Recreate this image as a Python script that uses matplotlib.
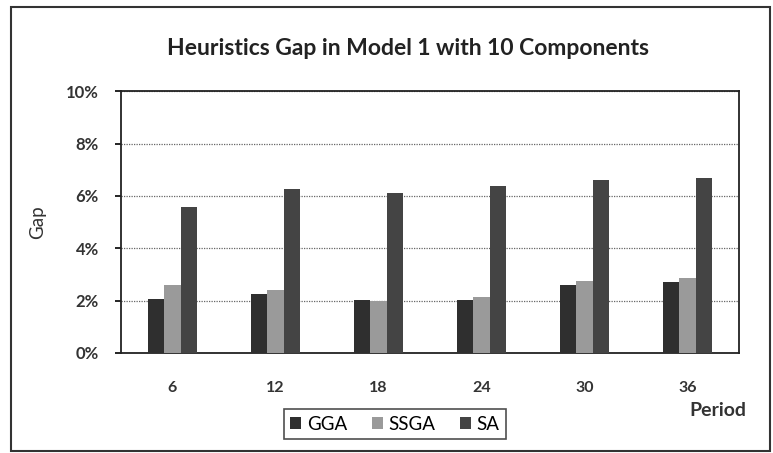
import numpy as np
import matplotlib.pyplot as plt
from matplotlib.patches import Rectangle
from matplotlib.ticker import FuncFormatter

periods = ["6", "12", "18", "24", "30", "36"]
gga = [2.06, 2.24, 2.04, 2.04, 2.60, 2.70]
ssga = [2.60, 2.41, 1.99, 2.14, 2.76, 2.87]
sa = [5.56, 6.27, 6.11, 6.36, 6.60, 6.69]

series = [("GGA", gga, "#2f2f2f"), ("SSGA", ssga, "#9a9a9a"), ("SA", sa, "#444444")]

plt.rcParams["font.family"] = ["Lato", "DejaVu Sans"]

fig = plt.figure(figsize=(7.73, 4.53), dpi=100)
ax = fig.add_axes([0.1565, 0.2208, 0.7995, 0.578])

x = np.arange(len(periods))
w = 0.16
for i, (name, vals, col) in enumerate(series):
    ax.bar(x + (i - 1) * w, vals, width=w, color=col, label=name, zorder=3)

ax.set_xlim(-0.5, len(periods) - 0.5)
ax.set_ylim(0, 10)
ax.set_yticks(np.arange(0, 11, 2))
ax.yaxis.set_major_formatter(FuncFormatter(lambda v, p: f"{v:.0f}%"))
ax.set_xticks(x)
ax.set_xticklabels(periods)
ax.tick_params(axis="x", length=0, pad=20, labelsize=11.5)
ax.tick_params(axis="y", length=4, width=1.2, direction="out", labelsize=12, pad=12)
for lbl in ax.get_xticklabels() + ax.get_yticklabels():
    lbl.set_fontweight("bold")
    lbl.set_color("#333333")

ax.yaxis.grid(True, linestyle=(0, (1, 1)), color="#666666", linewidth=0.9, zorder=0)
for sp in ax.spines.values():
    sp.set_linewidth(1.3)
    sp.set_color("#222222")

ax.set_ylabel("Gap", fontsize=13.5, color="#333333", labelpad=14)

fig.text(0.528, 0.893, "Heuristics Gap in Model 1 with 10 Components",
         ha="center", va="center", fontsize=16.5, fontweight="bold", color="#222222")
fig.text(0.929, 0.093, "Period", ha="center", va="center",
         fontsize=14, fontweight="bold", color="#333333")

leg = fig.legend(loc="center", bbox_to_anchor=(0.511, 0.064), ncol=3,
                 fontsize=13.5, frameon=True, fancybox=False, handlelength=0.6,
                 handleheight=0.6, handletextpad=0.3, columnspacing=1.3,
                 borderpad=0.35)
leg.get_frame().set_edgecolor("#222222")
leg.get_frame().set_linewidth(1.2)

# outer chart border
fig.patches.append(Rectangle((0.014, 0.004), 0.982, 0.98, transform=fig.transFigure,
                             fill=False, edgecolor="#333333", linewidth=1.5))

fig.savefig("out.png", dpi=100)
